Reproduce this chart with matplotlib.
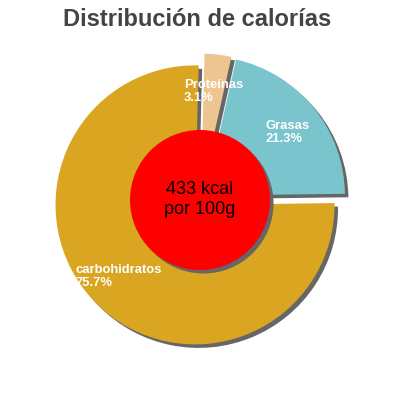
import matplotlib
matplotlib.use('Agg')
import matplotlib.pyplot as plt
from matplotlib.patches import Circle

categories = ['Proteínas', 'Grasas', 'carbohidratos']
percent = [3.1, 21.3, 75.7]
colors = ['#EEC591', '#7AC5CD', '#DAA520']
explode = [0.05, 0.05, 0.05]
title = 'Distribución de calorías'
center_text = '433 kcal\npor 100g'

plt.rcParams['font.family'] = ['Liberation Sans', 'DejaVu Sans']

fig = plt.figure(figsize=(4, 4), dpi=100)
ax = fig.add_axes([0, 0, 1, 1])
R = 139.5  # pie radius in pixels


def px(x, y):
    return ((x - 200) / R, (200 - y) / R)


sh = 3.5 / R
start = 88.5
# shadows
ax.pie(percent, explode=explode, colors=['#666666'] * 3, startangle=start,
       counterclock=False, center=(sh, -sh), radius=1,
       wedgeprops=dict(linewidth=0))
# slices
ax.pie(percent, explode=explode, colors=colors, startangle=start,
       counterclock=False, radius=1, wedgeprops=dict(linewidth=0))

# center disc
ax.add_patch(Circle((sh, -sh), 70 / R, color='#666666', lw=0, zorder=5))
ax.add_patch(Circle((0, 0), 70 / R, color='#FF0000', lw=0, zorder=6))
cx, cy = px(199.5, 214)
ax.text(cx, cy, center_text, ha='center', va='baseline', multialignment='center',
        fontsize=13, color='black', linespacing=1.2, zorder=7)

# anchors: left x and baseline of the last line
label_pos = [(184, 101), (265, 141.5), (75, 285.7)]
for name, p, (lx, ly) in zip(categories, percent, label_pos):
    x, y = px(lx, ly)
    ax.text(x, y, f'{name}\n{p}%', ha='left', va='baseline', fontsize=9.4,
            fontweight='bold', color='white', linespacing=1.07, zorder=8)

lim = 200 / R
ax.set_xlim(-lim, lim)
ax.set_ylim(-lim, lim)
ax.set_aspect('equal')
ax.axis('off')

fig.text(197.5 / 400, 1 - 25.5 / 400, title, ha='center', va='baseline',
         fontsize=17, fontweight='bold', color='#444444')

fig.savefig('out.png', dpi=100)
